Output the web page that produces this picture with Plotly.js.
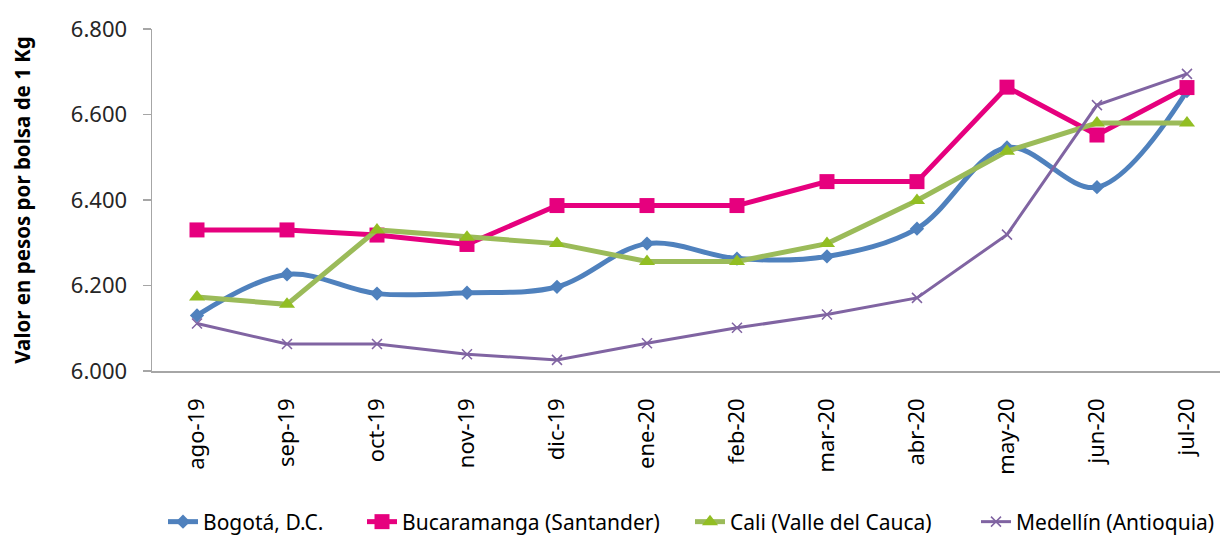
<!DOCTYPE html>
<html>
<head>
<meta charset="utf-8">
<script src="https://cdn.plot.ly/plotly-3.0.1.min.js"></script>
<style>html,body{margin:0;padding:0;background:#fff;}#chart{width:1220px;height:536px;}</style>
</head>
<body>
<div id="chart"></div>
<script>
var categories = ["ago-19","sep-19","oct-19","nov-19","dic-19","ene-20","feb-20","mar-20","abr-20","may-20","jun-20","jul-20"];
var bogota = [6130, 6226, 6181, 6183, 6197, 6298, 6263, 6268, 6333, 6523, 6430, 6655];
var bucaramanga = [6330, 6330, 6318, 6296, 6387, 6387, 6387, 6443, 6443, 6664, 6552, 6663];
var cali = [6173, 6156, 6330, 6313, 6298, 6256, 6256, 6298, 6399, 6514, 6580, 6580];
var medellin = [6111, 6063, 6063, 6039, 6026, 6065, 6101, 6132, 6171, 6319, 6622, 6695];
var seriesNames = ["Bogotá, D.C.", "Bucaramanga (Santander)", "Cali (Valle del Cauca)", "Medellín (Antioquia)"];
var yTitle = "Valor en pesos por bolsa de 1 Kg";

var font = "'Noto Sans', 'Open Sans', sans-serif";

var traces = [
  {x: categories, y: bogota, name: seriesNames[0], mode: "lines+markers", legend: "legend",
   line: {color: "#4F81BD", width: 5, shape: "spline", smoothing: 1},
   marker: {symbol: "diamond", size: 11, color: "#4F81BD"}},
  {x: categories, y: bucaramanga, name: seriesNames[1], mode: "lines+markers", legend: "legend2",
   line: {color: "#E6007E", width: 5},
   marker: {symbol: "square", size: 15, color: "#E6007E"}},
  {x: categories, y: cali, name: seriesNames[2], mode: "lines+markers", legend: "legend3",
   line: {color: "#9BBB59", width: 5},
   marker: {symbol: "triangle-up", size: 14, color: "#92BE23"}},
  {x: categories, y: medellin, name: seriesNames[3], mode: "lines+markers", legend: "legend4",
   line: {color: "#8064A2", width: 3},
   marker: {symbol: "x-thin", size: 10, line: {color: "#8064A2", width: 1.5}, color: "#8064A2"}}
];

function leg(px) {
  return {orientation: "h", xref: "container", yref: "container", x: px / 1220, xanchor: "left",
          y: 14 / 536, yanchor: "middle", bgcolor: "rgba(0,0,0,0)",
          font: {family: font, size: 21, color: "#000"}};
}

var layout = {
  width: 1220, height: 536,
  margin: {l: 152, r: 0, t: 28.5, b: 165},
  paper_bgcolor: "#fff", plot_bgcolor: "#fff",
  separators: ",.",
  font: {family: font, color: "#000"},
  showlegend: true,
  legend: leg(163), legend2: leg(362), legend3: leg(690), legend4: leg(976),
  xaxis: {type: "category", range: [-0.5, 11.367], showgrid: false, zeroline: false, automargin: false,
          showline: true, linecolor: "#A6A6A6", linewidth: 1.5, ticks: "",
          tickangle: -90, ticklabelstandoff: 17,
          tickfont: {family: font, size: 22, color: "#000"}},
  yaxis: {range: [6000, 6800], dtick: 200, tickformat: ",d", showgrid: false, zeroline: false, automargin: false,
          showline: true, linecolor: "#A6A6A6", linewidth: 1.5, ticks: "outside", ticklen: 8,
          tickcolor: "#A6A6A6", tickwidth: 1.5, ticklabelstandoff: 11,
          tickfont: {family: font, size: 22, color: "#262626"},
          title: {text: "<b>" + yTitle + "</b>", font: {family: font, size: 20.5, color: "#000"}, standoff: 34}}
};

Plotly.newPlot("chart", traces, layout, {displayModeBar: false, staticPlot: true});
</script>
</body>
</html>
